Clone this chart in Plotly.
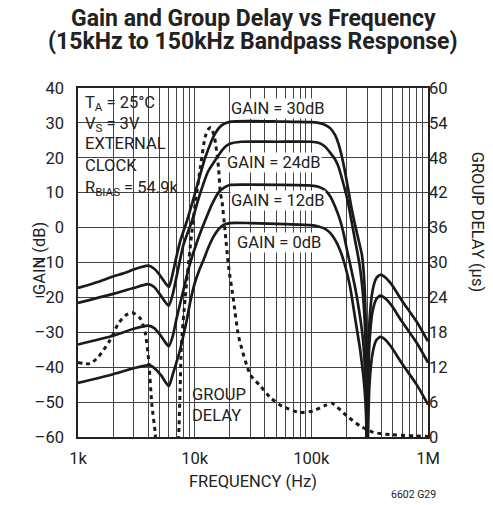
import plotly.graph_objects as go

# ---------------- data (frequency in Hz) ----------------
f30 = [1e3, 1.5e3, 2e3, 2.5e3, 3e3, 3.5e3, 4e3, 4.5e3, 5e3, 5.5e3, 6e3, 6.3e3, 6.8e3, 7.5e3, 8.6e3,
       10.1e3, 12.3e3, 15e3, 17e3, 20e3, 30e3, 50e3, 70e3, 100e3, 115e3, 130e3, 145e3, 160e3, 171e3,
       185e3, 202e3, 220e3, 240e3, 260e3, 272e3, 285e3, 294e3, 299e3, 300e3,
       305e3, 315e3, 335e3, 360e3, 390e3, 420e3, 480e3, 600e3, 800e3, 1e6]
g30 = [-17.3, -15.5, -14, -13, -12, -11.3, -10.9, -11.8, -13.5, -15.5, -17, -15, -10, -4, 2,
       10, 20, 27, 29.3, 30.3, 30.5, 30.4, 30.3, 30.2, 30.0, 29.5, 28.5, 26.5, 24,
       19.5, 13, 6, 0, -5, -8, -16, -30, -50, -80,
       -45, -27, -18, -14.5, -13.5, -14, -16, -21, -27, -32.6]

f24 = [1e3, 2e3, 3e3, 4e3, 4.5e3, 5e3, 5.5e3, 6e3, 6.5e3, 7e3, 8e3, 9.5e3, 11.2e3, 13e3, 15.5e3,
       17.5e3, 20e3, 25e3, 50e3, 100e3, 115e3, 130e3, 145e3, 160e3, 171e3, 185e3, 201e3, 218e3,
       235e3, 246e3, 260e3, 275e3, 288e3, 296e3, 300e3,
       305e3, 315e3, 335e3, 360e3, 390e3, 420e3, 480e3, 600e3, 800e3, 1e6]
g24 = [-21.6, -19, -17.3, -16.2, -17, -19, -21, -22.4, -19, -14, -5, 2, 10, 16, 20,
       22.5, 24, 24.6, 24.6, 24.6, 24.3, 23.3, 21.5, 19.5, 17.4, 13.5, 8.9, 3,
       -3, -6.4, -11, -18, -28, -42, -80,
       -50, -33, -24, -20.5, -19.5, -20, -22, -27, -33, -38.7]

f12 = [1e3, 2e3, 3e3, 4e3, 4.5e3, 5e3, 5.5e3, 6e3, 6.5e3, 7e3, 8e3, 9e3, 10.5e3, 12.3e3, 14e3,
       16e3, 18e3, 20e3, 30e3, 100e3, 115e3, 130e3, 145e3, 160e3, 175e3, 190e3, 202e3, 220e3,
       240e3, 260e3, 275e3, 288e3, 296e3, 300e3,
       305e3, 315e3, 335e3, 360e3, 390e3, 420e3, 480e3, 600e3, 800e3, 1e6]
g12 = [-33.5, -31, -29, -28.1, -28.8, -30.5, -32.5, -34, -31, -26, -18, -11, -4, 2, 6.5,
       10, 11.5, 12.2, 12.3, 12.0, 11.7, 10.8, 9, 6, 2.5, -2, -6.4, -12,
       -18, -25, -31, -40, -52, -80,
       -62, -45, -36, -32.3, -31.3, -31.8, -34, -39, -45, -50.7]

f0 = [1e3, 2e3, 3e3, 4.1e3, 4.6e3, 5.2e3, 6e3, 6.5e3, 7e3, 7.5e3, 8e3, 8.5e3, 9.2e3, 10e3, 11e3,
      12e3, 13e3, 14.5e3, 16e3, 17.7e3, 20e3, 30e3, 60e3, 100e3, 115e3, 130e3, 145e3, 160e3,
      176e3, 195e3, 215e3, 240e3, 262e3, 280e3, 290e3, 297e3, 300e3]
g0 = [-44.5, -42, -40.3, -39.4, -40.5, -42.5, -45.4, -42, -38.5, -35, -31, -27, -21, -16, -12,
      -9, -6, -2.6, -0.5, 0.8, 1.3, 1.3, 1.0, 0.7, 0.3, -0.3, -1.5, -3.5,
      -6.4, -11, -17, -27, -35, -43, -49, -58, -80]

# group delay (us), right axis
fd = [1e3, 1.27e3, 1.5e3, 1.89e3, 2.23e3, 2.6e3, 2.9e3, 3.42e3, 3.77e3, 4.03e3, 4.3e3, 4.6e3, 4.7e3,
      7.2e3, 7.3e3, 7.5e3, 7.7e3, 8.3e3, 9.2e3, 10.1e3, 11.2e3, 12.3e3, 13.2e3, 13.8e3, 14.8e3,
      16e3, 16.6e3, 17.1e3, 18.3e3, 19.5e3, 21.5e3, 23.8e3, 30e3, 36.5e3, 44.4e3, 56e3, 80e3,
      104e3, 130e3, 150e3, 202e3, 262e3, 341e3, 475e3, 1e6]
gd = [12.8, 12.6, 13.8, 16.7, 19.6, 21, 21.4, 20.4, 17.9, 13.3, 5.5, 0.5, -5,
      -5, 0, 8, 16, 24, 33, 40, 46.4, 51.6, 53, 53.2, 51.5,
      46.4, 41.9, 40.7, 35, 29.4, 23.6, 17.3, 10.7, 8.8, 6.8, 5.3, 4.2,
      4.5, 5.4, 5.8, 3.6, 1.9, 0.8, 0.4, 0.1]

x_tickvals = [1e3, 1e4, 1e5, 1e6]
x_ticktext = ["1k", "10k", "100k", "1M"]
x_minor = [m * 10 ** e for e in range(3, 6) for m in range(2, 10)]
y_ticks = list(range(-60, 41, 10))
y_ticktext = [("–" + str(-v)) if v < 0 else str(v) for v in y_ticks]
y2_ticks = list(range(0, 61, 6))

FONT = "Roboto"
INK = "#222"
GRID = "#444"
TS = 16.5

fig = go.Figure()
for fx, gy, nm in [(f30, g30, "30dB"), (f24, g24, "24dB"), (f12, g12, "12dB"), (f0, g0, "0dB")]:
    fig.add_trace(go.Scatter(x=fx, y=gy, mode="lines",
                             line=dict(color="#1a1a1a", width=2.7, shape="spline", smoothing=0.6),
                             name=nm, showlegend=False))
fig.add_trace(go.Scatter(x=fd, y=gd, mode="lines", yaxis="y2",
                         line=dict(color="#1a1a1a", width=3, dash="4px,4px", shape="spline", smoothing=0.6),
                         showlegend=False))

fig.update_layout(
    width=493, height=505,
    margin=dict(l=78, r=65, t=88, b=68),
    paper_bgcolor="white", plot_bgcolor="white",
    font=dict(family=FONT, size=TS, color=INK),
    xaxis=dict(type="log", range=[3, 6], tickmode="array", tickvals=x_tickvals, ticktext=x_ticktext,
               automargin=False, showgrid=True, gridcolor=GRID, gridwidth=1,
               minor=dict(tickmode="array", tickvals=x_minor, showgrid=True, gridcolor=GRID,
                          gridwidth=1, ticks=""),
               ticks="outside", ticklen=5, tickcolor="rgba(0,0,0,0)", zeroline=False,
               showline=True, linecolor=INK, linewidth=1.5, mirror=True, tickfont=dict(size=TS)),
    yaxis=dict(range=[-60, 40], tickmode="array", tickvals=y_ticks, ticktext=y_ticktext,
               showgrid=True, gridcolor=GRID, gridwidth=1,
               automargin=False, ticks="outside", ticklen=9, tickcolor="rgba(0,0,0,0)",
               zeroline=False, showline=True, linecolor=INK, linewidth=1.5, mirror=True,
               tickfont=dict(size=TS)),
    yaxis2=dict(range=[0, 60], tickvals=y2_ticks, overlaying="y", side="right", showgrid=False,
                automargin=False, ticks="", zeroline=False, tickfont=dict(size=TS)),
)

def ann(text, x, y, size=TS, **kw):
    d = dict(text=text, x=x, y=y, xref="paper", yref="paper", showarrow=False,
             font=dict(size=size, family=FONT, color=INK))
    d.update(kw)
    fig.add_annotation(**d)

# title
ann("<b>Gain and Group Delay vs Frequency</b>", 0.5, 1, size=23, yshift=69.5, xanchor="center",
    yanchor="middle")
ann("<b>(15kHz to 150kHz Bandpass Response)</b>", 0.5, 1, size=23, yshift=46.5, xanchor="center",
    yanchor="middle")

# axis titles
ann("GAIN (dB)", 0, 0.51, xshift=-39, textangle=-90, xanchor="center", yanchor="middle")
ann("GROUP DELAY (µs)", 1, 0.617, xshift=49, textangle=90, xanchor="center", yanchor="middle")
ann("FREQUENCY (Hz)", 0.501, 0, yshift=-44.5, xanchor="center", yanchor="middle")
ann("6602 G29", 1, 0, size=10.5, xshift=10, yshift=-57, xanchor="right", yanchor="middle")

# white boxes behind text
fig.add_shape(type="rect", xref="paper", yref="paper", x0=0, x1=0.306, y0=0.685, y1=1,
              fillcolor="white", line=dict(width=0), layer="between")
fig.add_shape(type="rect", xref="paper", yref="paper", x0=0.314, x1=0.497, y0=0, y1=0.163,
              fillcolor="white", line=dict(width=0), layer="between")

cond = [("T<sub>A</sub> = 25°C", 0.955), ("V<sub>S</sub> = 3V", 0.894), ("EXTERNAL", 0.842),
        ("CLOCK", 0.779), ("R<sub>BIAS</sub> = 54.9k", 0.712)]
for t, yy in cond:
    ann(t, 0.013, yy, xanchor="left", yanchor="middle")

for t, xx, yy in [("GAIN = 30dB", 0.434, 0.942), ("GAIN = 24dB", 0.424, 0.787),
                  ("GAIN = 12dB", 0.434, 0.677), ("GAIN = 0dB", 0.452, 0.556)]:
    ann(t, xx, yy, xanchor="left", yanchor="middle", bgcolor="white", borderpad=0)

ann("GROUP<br>DELAY", 0.32, 0.093, xanchor="left", yanchor="middle", align="left")

fig.write_html("out.html", config={"displayModeBar": False},
               post_script="document.body.style.margin='0px';")
